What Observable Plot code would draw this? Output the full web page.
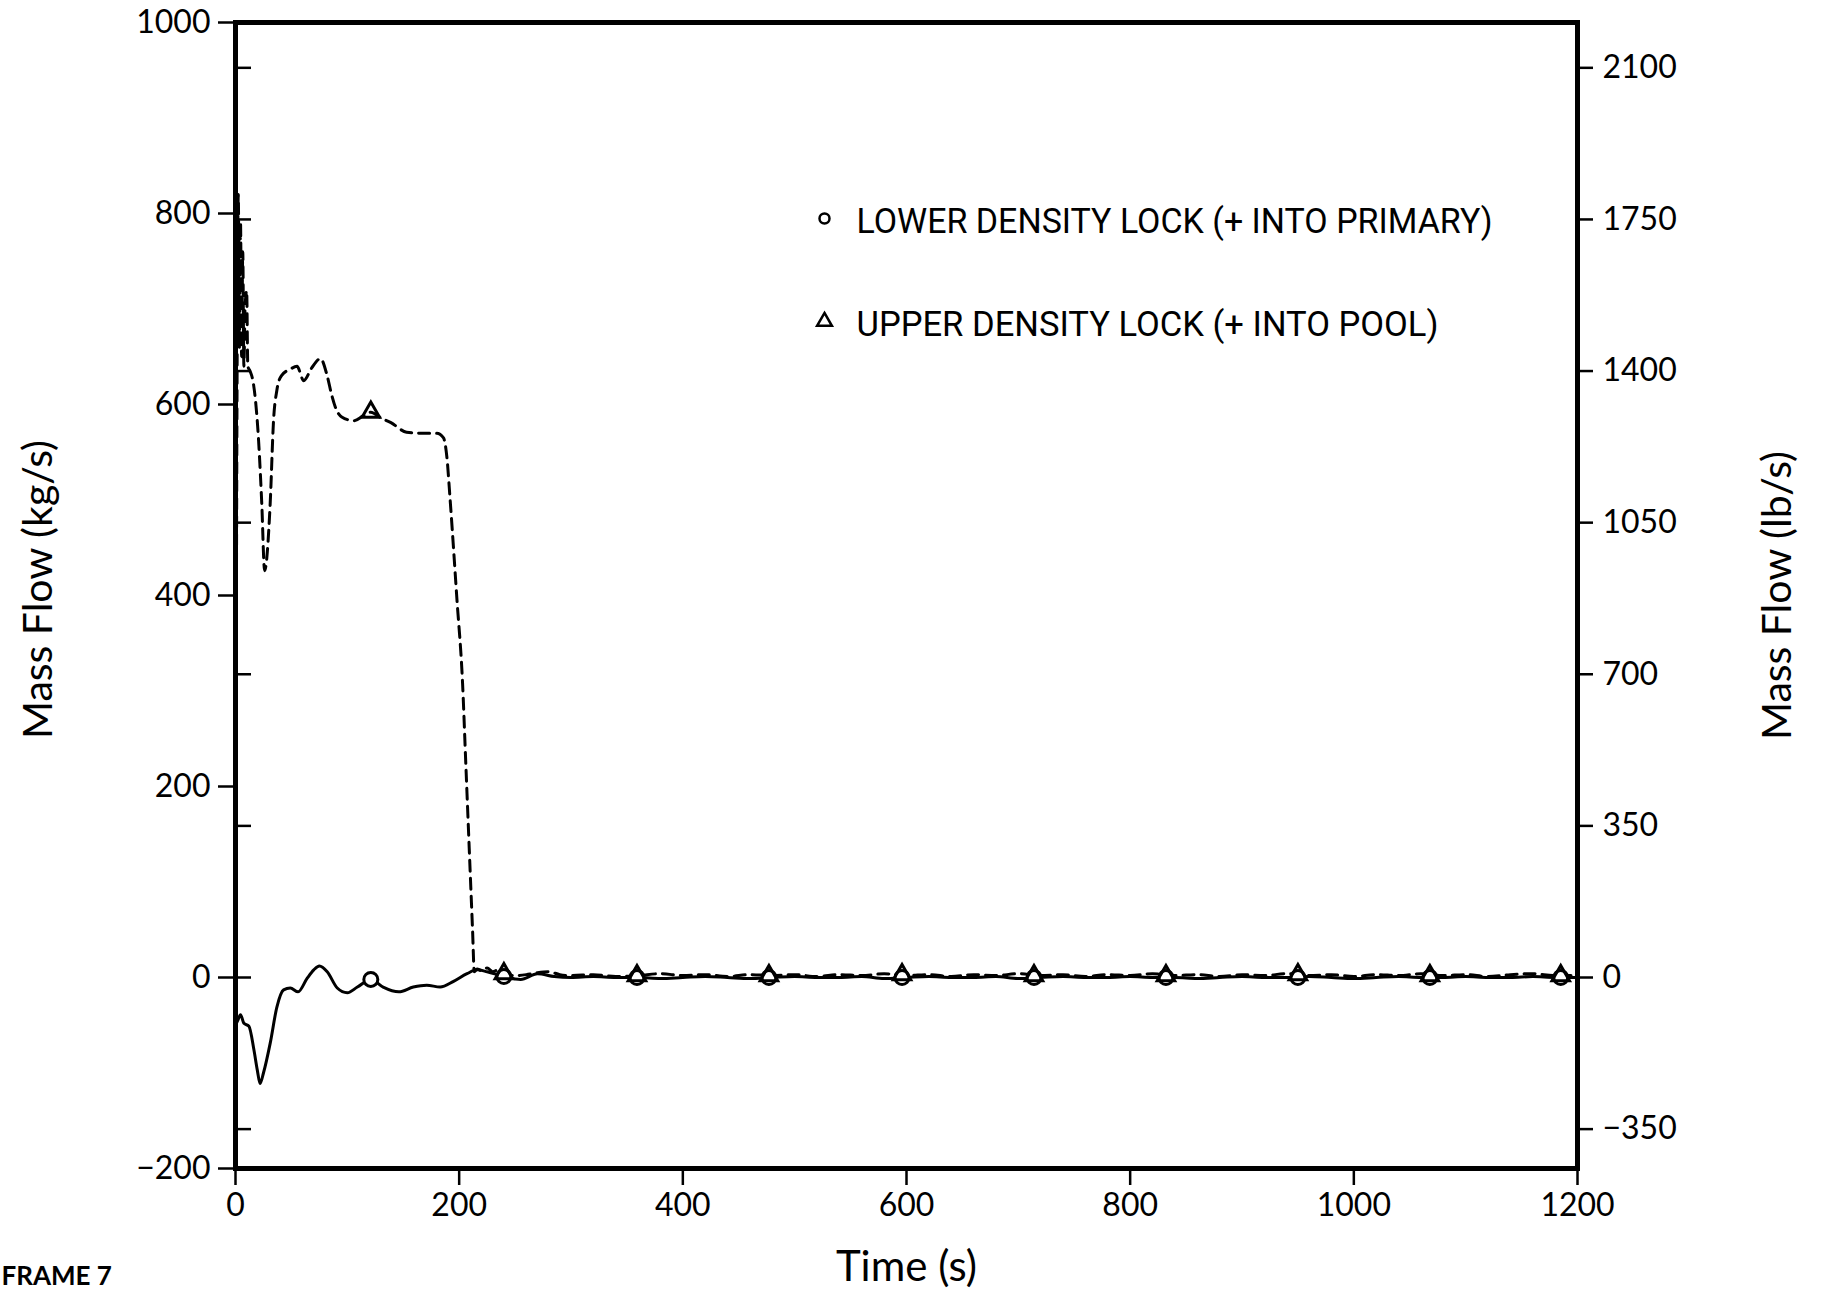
<!DOCTYPE html>
<html><head><meta charset="utf-8">
<script src="https://cdn.jsdelivr.net/npm/d3@7"></script>
<script src="https://cdn.jsdelivr.net/npm/@observablehq/plot@0.6"></script>
<style>body{margin:0;background:#fff;}</style>
</head><body><div id="chart"></div>
<script>
const KG_TO_LB = 2.20462;
const xTicks = [0, 200, 400, 600, 800, 1000, 1200];
const yTicksKg = [-200, 0, 200, 400, 600, 800, 1000];
const yTicksLb = [-350, 0, 350, 700, 1050, 1400, 1750, 2100];
const xTitle = "Time (s)";
const yLeftTitle = "Mass Flow (kg/s)";
const yRightTitle = "Mass Flow (lb/s)";
const frameLabel = "FRAME 7";
const legendLabels = ["LOWER DENSITY LOCK (+ INTO PRIMARY)", "UPPER DENSITY LOCK (+ INTO POOL)"];

// Lower density lock (solid)
const lowerTime = [0, 2, 4.5, 7.5, 12, 16.5, 19.5, 22, 25, 31, 37, 43, 49, 56, 64, 70, 75, 82, 91, 100, 109, 121, 132, 146, 159, 171, 183, 195, 207, 216, 225, 240, 255, 270, 285, 300,
  320, 340, 360, 380, 400, 420, 440, 460, 480, 500, 520, 540, 560, 580, 600, 620, 640, 660, 680, 700, 720, 740, 760, 780, 800,
  820, 840, 860, 880, 900, 920, 940, 960, 980, 1000, 1020, 1040, 1060, 1080, 1100, 1120, 1140, 1160, 1180, 1200];
const lowerFlow = [-50, -45, -39, -48, -51, -76, -97, -111, -100, -69, -31, -13, -11, -15, -1, 8, 12, 6, -11, -16, -10, -2, -10, -15, -10, -8, -10, -4, 4, 8, 6, 1, -2, 4, 1, 0,
  1, 0, 0, -1, 0, 1, 0, -1, 0, 1, 0, 0, 1, -1, 0, 1, 0, 0, 1, -1, 0, 1, 0, 0, 1,
  0, 0, -1, 0, 1, 0, 0, 1, 0, -1, 0, 1, 0, 0, 1, 0, 0, 1, 0, 0];

// Upper density lock (dashed)
const upperTime = [0, 1.5, 2.5, 3.5, 4.5, 5.5, 6.5, 7.5, 8.5, 10, 11, 13, 16, 20.5, 23.5, 26, 31, 34, 37, 41, 49, 55, 61, 68, 76, 82, 86, 90, 95, 106, 114, 121, 130, 139, 153, 165, 180, 186, 189, 192, 198, 203, 206, 209, 212, 213.5,
  216, 220, 225, 230, 235, 240, 250, 260, 270, 280, 290, 300, 320, 340, 360, 380, 400, 420, 440, 460, 480, 500, 520, 540, 560, 580, 600,
  620, 640, 660, 680, 700, 720, 740, 760, 780, 800, 820, 840, 860, 880, 900, 920, 940, 960, 980, 1000, 1020, 1040, 1060, 1080, 1100, 1120, 1140, 1160, 1180, 1200];
const upperFlow = [0, 650, 820, 660, 790, 650, 760, 640, 700, 719, 640, 635, 622, 565, 496, 426, 496, 583, 615, 630, 637, 640, 625, 638, 648, 630, 610, 595, 587, 583, 588, 592, 586, 581, 571, 570, 570, 565, 545, 499, 396, 309, 222, 135, 49, 6,
  9, 7, 10, 6, 8, 4, 2, 3, 5, 6, 3, 2, 3, 1, 2, 4, 2, 3, 1, 3, 2, 3, 1, 3, 2, 4, 2,
  3, 1, 3, 2, 4, 2, 3, 1, 3, 2, 4, 2, 3, 1, 3, 2, 4, 2, 3, 1, 3, 2, 4, 2, 3, 1, 3, 4, 2, 2];

// Symbols along the curves
const markerTime = [121, 240, 359, 477, 596, 714, 832, 950, 1068, 1185];
const lowerMarkerFlow = [-2, 1, 0, 0, 0, 0, 0, 0, 0, 0];
const upperMarkerFlow = [592, 4, 2, 2, 3, 2, 2, 3, 2, 2];

const lower = lowerTime.map((t, i) => ({t, v: lowerFlow[i]}));
const upper = upperTime.map((t, i) => ({t, v: upperFlow[i]}));
const lowerMarkers = markerTime.map((t, i) => ({t, v: lowerMarkerFlow[i]}));
const upperMarkers = markerTime.map((t, i) => ({t, v: upperMarkerFlow[i]}));

const fmt = d => (d < 0 ? "\u2212" : "") + Math.abs(d);
const legendFont = "Roboto, 'Liberation Sans', sans-serif";
const legendWidths = [636, 582];

const plot = Plot.plot({
  width: 1821, height: 1293,
  marginLeft: 235, marginRight: 244, marginTop: 22, marginBottom: 125,
  style: {fontFamily: "Lato, sans-serif", fontSize: "32px", background: "#fff", color: "#000"},
  x: {domain: [0, 1200]},
  y: {domain: [-200, 1000]},
  marks: [
    Plot.line(lower, {x: "t", y: "v", stroke: "#000", strokeWidth: 3, curve: "monotone-x"}),
    Plot.line(upper, {x: "t", y: "v", stroke: "#000", strokeWidth: 3, strokeDasharray: "11,7", curve: "monotone-x"}),
    Plot.dot(lowerMarkers, {x: "t", y: "v", r: 7, fill: "#fff", stroke: "#000", strokeWidth: 3}),
    Plot.dot(upperMarkers, {x: "t", y: "v", symbol: "triangle", r: 6.5, fill: "none", stroke: "#000", strokeWidth: 3}),
    Plot.axisX({ticks: xTicks, tickSize: 17, tickPadding: 8, strokeWidth: 2.5, label: null, tickFormat: fmt}),
    Plot.axisY({anchor: "left", ticks: yTicksKg, tickSize: 17, tickPadding: 8, strokeWidth: 2.5, label: null, tickFormat: fmt}),
    Plot.axisY({anchor: "left", ticks: yTicksLb.map(d => d / KG_TO_LB), tickSize: -16, strokeWidth: 2.5, label: null, tickFormat: () => ""}),
    Plot.axisY({anchor: "right", ticks: yTicksLb.map(d => d / KG_TO_LB), tickSize: 15, tickPadding: 10, strokeWidth: 2.5, label: null,
      tickFormat: d => fmt(Math.round(d * KG_TO_LB))}),
    Plot.frame({stroke: "#000", strokeWidth: 5}),
    Plot.text([yLeftTitle], {text: d => d, frameAnchor: "left", dx: -197, dy: -6, rotate: -90, textAnchor: "middle", fontSize: 41}),
    Plot.text([yRightTitle], {text: d => d, frameAnchor: "right", dx: 200, rotate: -90, textAnchor: "middle", fontSize: 41}),
    Plot.text([xTitle], {text: d => d, frameAnchor: "bottom", dy: 112, fontSize: 42}),
    Plot.text([frameLabel], {text: d => d, frameAnchor: "bottom-left", dx: -234, dy: 116, textAnchor: "start", fontSize: 26, fontWeight: "bold"}),
    // legend
    Plot.dot([legendLabels[0]], {frameAnchor: "top-left", dx: 589, dy: 196, r: 5, fill: "#fff", stroke: "#000", strokeWidth: 2.5}),
    Plot.dot([legendLabels[1]], {frameAnchor: "top-left", dx: 589, dy: 299, r: 5.5, symbol: "triangle", fill: "#fff", stroke: "#000", strokeWidth: 2.5}),
    Plot.text([legendLabels[0]], {text: d => d, frameAnchor: "top-left", dx: 621, dy: 186, textAnchor: "start", fontSize: 35, fontFamily: legendFont}),
    Plot.text([legendLabels[1]], {text: d => d, frameAnchor: "top-left", dx: 621, dy: 289, textAnchor: "start", fontSize: 35, fontFamily: legendFont})
  ]
});
d3.select(plot).selectAll("text").each(function() {
  const i = legendLabels.indexOf(this.textContent);
  if (i >= 0) d3.select(this).attr("textLength", legendWidths[i]).attr("lengthAdjust", "spacingAndGlyphs");
});
document.getElementById("chart").appendChild(plot);
</script>
</body></html>
